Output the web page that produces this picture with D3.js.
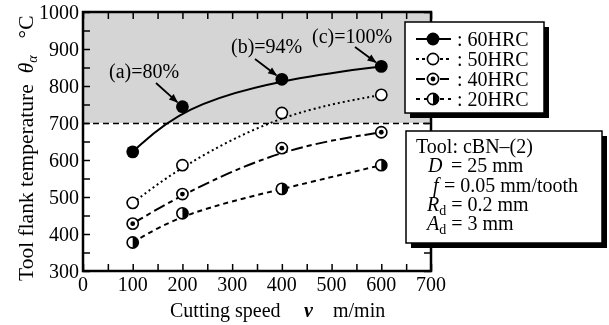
<!DOCTYPE html>
<html>
<head>
<meta charset="utf-8">
<script src="https://cdn.jsdelivr.net/npm/d3@7"></script>
<style>
  body { margin: 0; background: #fff; }
  svg { will-change: transform; }
  svg text { font-family: "Liberation Serif", "Times New Roman", serif; fill: #000; font-size: 20px; }
</style>
</head>
<body>
<svg id="chart" width="609" height="325"></svg>
<script>
// cutting speed, m/min
const speeds = [100, 200, 400, 600];
// tool flank temperature, deg C
const hrc60 = [622, 744, 818, 853];
const hrc50 = [484, 586, 727, 776];
const hrc40 = [428, 508, 632, 675];
const hrc20 = [377, 456, 522, 586];
const xTicks = [0, 100, 200, 300, 400, 500, 600, 700];
const yTicks = [300, 400, 500, 600, 700, 800, 900, 1000];
const limitTemp = 700;

const series = [
  { name: '60HRC', values: hrc60, dash: null, legendDash: null, marker: 'filled' },
  { name: '50HRC', values: hrc50, dash: '2,3', legendDash: '3,3', marker: 'open' },
  { name: '40HRC', values: hrc40, dash: '12,4,5,4', legendDash: '9,3', marker: 'dot' },
  { name: '20HRC', values: hrc20, dash: '5,4', legendDash: '4,4', marker: 'half' }
];

const notes = [
  { label: '(a)=80%', x: 200, y: 744, tx: 109, ty: 78, ax: 156, ay: 83 },
  { label: '(b)=94%', x: 400, y: 818, tx: 231, ty: 53, ax: 255, ay: 59 },
  { label: '(c)=100%', x: 600, y: 853, tx: 312, ty: 43, ax: 355, ay: 47 }
];

const svg = d3.select('#chart');
const pLeft = 83, pRight = 431, pTop = 12, pBottom = 271;

const x = d3.scaleLinear().domain([0, 700]).range([pLeft, pRight]);
const y = d3.scaleLinear().domain([300, 1000]).range([pBottom, pTop]);

// grey zone above the limit
svg.append('rect')
  .attr('x', pLeft).attr('y', pTop)
  .attr('width', pRight - pLeft).attr('height', y(limitTemp) - pTop)
  .attr('fill', '#d5d5d5');

svg.append('line')
  .attr('x1', pLeft).attr('x2', pRight)
  .attr('y1', Math.round(y(limitTemp)) + 0.5).attr('y2', Math.round(y(limitTemp)) + 0.5)
  .attr('stroke', '#000').attr('stroke-width', 1.4)
  .attr('stroke-dasharray', '6,4');

// axes with inward ticks
const minorX = d3.range(0, 701, 50);
const minorY = d3.range(300, 1001, 50);
const fmt = d3.format('d');

svg.append('g').attr('transform', `translate(0,${pBottom})`)
  .call(d3.axisBottom(x).tickValues(minorX).tickSize(-7).tickFormat(''));
svg.append('g').attr('transform', `translate(0,${pTop})`)
  .call(d3.axisTop(x).tickValues(minorX).tickSize(-7).tickFormat(''));
svg.append('g').attr('transform', `translate(${pLeft},0)`)
  .call(d3.axisLeft(y).tickValues(minorY).tickSize(-7).tickFormat(''));
svg.append('g').attr('transform', `translate(${pRight},0)`)
  .call(d3.axisRight(y).tickValues(minorY).tickSize(-7).tickFormat(''));
svg.selectAll('.domain').remove();
svg.selectAll('.tick line').attr('stroke', '#000').attr('stroke-width', 1.5);

svg.append('rect')
  .attr('x', pLeft).attr('y', pTop)
  .attr('width', pRight - pLeft).attr('height', pBottom - pTop)
  .attr('fill', 'none').attr('stroke', '#000').attr('stroke-width', 2.5);

svg.append('g').selectAll('text').data(xTicks).join('text')
  .attr('x', d => x(d)).attr('y', pBottom + 20)
  .attr('text-anchor', 'middle')
  .text(fmt);
svg.append('g').selectAll('text').data(yTicks).join('text')
  .attr('x', pLeft - 4).attr('y', d => y(d) + 7)
  .attr('text-anchor', 'end')
  .text(fmt);

// axis titles
svg.append('text').attr('x', 170).attr('y', 317).text('Cutting speed');
svg.append('text').attr('x', 304).attr('y', 317)
  .style('font-style', 'italic').style('font-weight', 'bold').text('v');
svg.append('text').attr('x', 333).attr('y', 317).text('m/min');

const yt = svg.append('text')
  .attr('transform', 'translate(33,281) rotate(-90)')
  .style('font-size', '21.5px');
yt.append('tspan').text('Tool flank temperature');
yt.append('tspan').attr('dx', 11).style('font-style', 'italic').text('θ');
yt.append('tspan').attr('dy', 4).style('font-size', '14px').style('font-style', 'italic').text('α');
yt.append('tspan').attr('dy', -4).attr('dx', 17).text('°C');

// curves
const line = d3.line()
  .x((d, i) => x(speeds[i]))
  .y(d => y(d))
  .curve(d3.curveBasis);

svg.append('g').selectAll('path').data(series).join('path')
  .attr('d', s => line(s.values))
  .attr('fill', 'none').attr('stroke', '#000')
  .attr('stroke-width', 2)
  .attr('stroke-dasharray', s => s.dash);

const r = 6.4;
function drawMarker(g, kind, cx, cy) {
  if (kind === 'filled') {
    g.append('circle').attr('cx', cx).attr('cy', cy).attr('r', r).attr('fill', '#000');
    return;
  }
  const rr = r - 0.8;
  g.append('circle').attr('cx', cx).attr('cy', cy).attr('r', rr)
    .attr('fill', '#fff').attr('stroke', '#000').attr('stroke-width', 1.6);
  if (kind === 'dot') {
    g.append('circle').attr('cx', cx).attr('cy', cy).attr('r', 2.4).attr('fill', '#000');
  }
  if (kind === 'half') {
    g.append('path')
      .attr('d', `M${cx},${cy - rr} A${rr},${rr} 0 0 1 ${cx},${cy + rr} Z`)
      .attr('fill', '#000');
  }
}

series.forEach(s => {
  const g = svg.append('g');
  s.values.forEach((v, i) => drawMarker(g, s.marker, x(speeds[i]), y(v)));
});

// annotations with arrows
const defs = svg.append('defs');
defs.append('marker').attr('id', 'arrow')
  .attr('viewBox', '0 0 10 10').attr('refX', 9).attr('refY', 5)
  .attr('markerWidth', 11).attr('markerHeight', 9).attr('orient', 'auto')
  .attr('markerUnits', 'userSpaceOnUse')
  .append('path').attr('d', 'M0,1 L10,5 L0,9 Z').attr('fill', '#000');

notes.forEach(n => {
  svg.append('text').attr('x', n.tx).attr('y', n.ty).text(n.label);
  const ex = x(n.x), ey = y(n.y);
  const ang = Math.atan2(ey - n.ay, ex - n.ax);
  svg.append('line')
    .attr('x1', n.ax).attr('y1', n.ay)
    .attr('x2', ex - Math.cos(ang) * (r + 0.5)).attr('y2', ey - Math.sin(ang) * (r + 0.5))
    .attr('stroke', '#000').attr('stroke-width', 1.8)
    .attr('marker-end', 'url(#arrow)');
});

// boxes with a drop shadow
function shadowBox(bx, by, bw, bh) {
  svg.append('rect').attr('x', bx + 5).attr('y', by + 5).attr('width', bw).attr('height', bh).attr('fill', '#000');
  svg.append('rect').attr('x', bx).attr('y', by).attr('width', bw).attr('height', bh)
    .attr('fill', '#fff').attr('stroke', '#000').attr('stroke-width', 1.5);
}

shadowBox(405, 22, 139, 91);
series.forEach((s, i) => {
  const ly = 39 + i * 20;
  svg.append('line').attr('x1', 416).attr('x2', 451).attr('y1', ly).attr('y2', ly)
    .attr('stroke', '#000').attr('stroke-width', 2)
    .attr('stroke-dasharray', s.legendDash);
  drawMarker(svg.append('g'), s.marker, 433, ly);
  svg.append('text').attr('x', 457).attr('y', ly + 7).text(': ' + s.name);
});

// tool conditions
shadowBox(406, 131, 196, 112);
const info = svg.append('g');
info.append('text').attr('x', 416).attr('y', 153).text('Tool: cBN–(2)');
info.append('text').attr('x', 428).attr('y', 172).style('font-style', 'italic').text('D');
info.append('text').attr('x', 451).attr('y', 172).text('= 25 mm');
info.append('text').attr('x', 433).attr('y', 192).style('font-style', 'italic').text('f');
info.append('text').attr('x', 444).attr('y', 192).text('= 0.05 mm/tooth');
const lR = info.append('text').attr('x', 427).attr('y', 211);
lR.append('tspan').style('font-style', 'italic').text('R');
lR.append('tspan').attr('dy', 4).style('font-size', '14px').text('d');
lR.append('tspan').attr('dy', -4).text(' = 0.2 mm');
const lA = info.append('text').attr('x', 427).attr('y', 230);
lA.append('tspan').style('font-style', 'italic').text('A');
lA.append('tspan').attr('dy', 4).style('font-size', '14px').text('d');
lA.append('tspan').attr('dy', -4).text(' = 3 mm');
</script>
</body>
</html>
